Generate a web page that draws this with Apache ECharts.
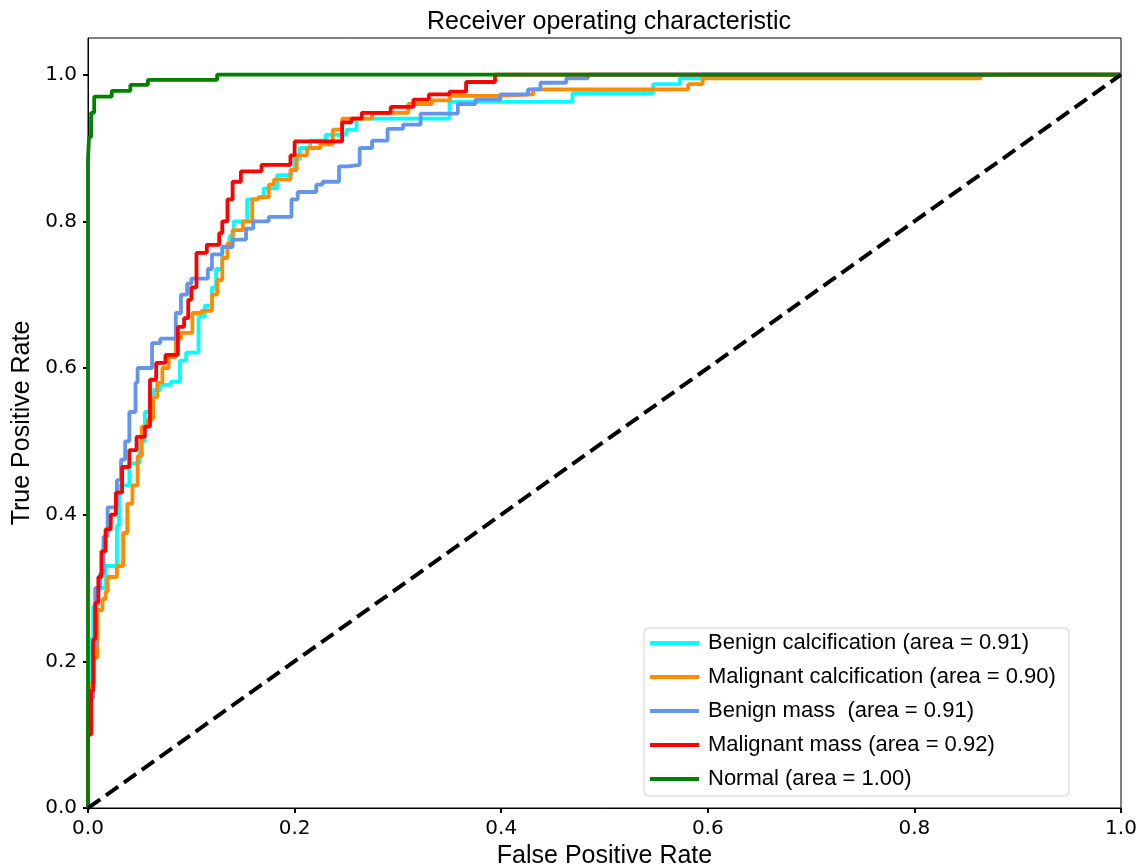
<!DOCTYPE html>
<html>
<head>
<meta charset="utf-8">
<script src="https://cdn.jsdelivr.net/npm/echarts@6/dist/echarts.min.js"></script>
<style>
  html, body { margin: 0; padding: 0; background: #fff; }
  #rocChart { width: 1143px; height: 868px; }
</style>
</head>
<body>
<div id="rocChart"></div>
<script>
// ROC 曲线数据 (fpr -> tpr 阶梯拐点)
var benignCalcFpr = [0, 0.002, 0.005, 0.010, 0.017, 0.028, 0.030, 0.040, 0.050, 0.055, 0.063, 0.070, 0.080, 0.089, 0.095, 0.107, 0.113, 0.120, 0.124, 0.130, 0.137, 0.141, 0.154, 0.165, 0.170, 0.183, 0.197, 0.200, 0.205, 0.215, 0.230, 0.250, 0.260, 0.350, 0.469, 0.547, 0.573, 0.594, 1.0];
var benignCalcTpr = [0.12, 0.23, 0.275, 0.30, 0.33, 0.385, 0.44, 0.47, 0.50, 0.54, 0.57, 0.577, 0.581, 0.61, 0.621, 0.67, 0.685, 0.71, 0.735, 0.765, 0.78, 0.80, 0.83, 0.833, 0.845, 0.863, 0.87, 0.885, 0.90, 0.91, 0.918, 0.925, 0.94, 0.963, 0.975, 0.987, 0.995, 1.0, 1.0];

var malignantCalcFpr = [0, 0.003, 0.006, 0.009, 0.014, 0.017, 0.019, 0.028, 0.034, 0.038, 0.043, 0.048, 0.052, 0.058, 0.063, 0.067, 0.072, 0.078, 0.085, 0.090, 0.101, 0.110, 0.120, 0.125, 0.130, 0.135, 0.140, 0.150, 0.159, 0.165, 0.175, 0.180, 0.196, 0.202, 0.212, 0.225, 0.237, 0.246, 0.275, 0.310, 0.333, 0.350, 0.396, 0.431, 0.581, 0.595, 0.864, 1.0];
var malignantCalcTpr = [0.12, 0.17, 0.205, 0.27, 0.285, 0.295, 0.315, 0.33, 0.375, 0.415, 0.44, 0.48, 0.52, 0.53, 0.56, 0.58, 0.60, 0.615, 0.64, 0.648, 0.675, 0.678, 0.70, 0.72, 0.75, 0.77, 0.788, 0.80, 0.83, 0.833, 0.85, 0.857, 0.87, 0.89, 0.90, 0.905, 0.925, 0.94, 0.948, 0.96, 0.965, 0.971, 0.973, 0.98, 0.987, 0.995, 1.0, 1.0];

var benignMassFpr = [0, 0.005, 0.007, 0.012, 0.015, 0.019, 0.028, 0.032, 0.036, 0.040, 0.046, 0.048, 0.062, 0.070, 0.085, 0.090, 0.096, 0.100, 0.116, 0.120, 0.130, 0.140, 0.153, 0.160, 0.175, 0.197, 0.203, 0.221, 0.227, 0.243, 0.252, 0.263, 0.275, 0.290, 0.305, 0.322, 0.358, 0.375, 0.399, 0.426, 0.438, 0.463, 0.484, 1.0];
var benignMassTpr = [0.15, 0.22, 0.30, 0.32, 0.37, 0.41, 0.447, 0.475, 0.50, 0.54, 0.58, 0.60, 0.634, 0.64, 0.675, 0.70, 0.715, 0.722, 0.735, 0.755, 0.765, 0.775, 0.79, 0.80, 0.806, 0.83, 0.84, 0.85, 0.854, 0.875, 0.877, 0.90, 0.91, 0.926, 0.932, 0.947, 0.96, 0.966, 0.973, 0.98, 0.989, 0.995, 1.0, 1.0];

var malignantMassFpr = [0, 0.003, 0.005, 0.007, 0.010, 0.013, 0.017, 0.022, 0.027, 0.033, 0.040, 0.047, 0.055, 0.060, 0.066, 0.075, 0.087, 0.093, 0.097, 0.100, 0.105, 0.115, 0.127, 0.130, 0.135, 0.140, 0.148, 0.168, 0.196, 0.200, 0.246, 0.255, 0.265, 0.293, 0.315, 0.330, 0.350, 0.366, 0.394, 1.0];
var malignantMassTpr = [0.10, 0.16, 0.23, 0.28, 0.315, 0.35, 0.38, 0.40, 0.43, 0.465, 0.488, 0.506, 0.52, 0.584, 0.607, 0.618, 0.656, 0.668, 0.693, 0.71, 0.757, 0.768, 0.784, 0.80, 0.83, 0.854, 0.868, 0.877, 0.89, 0.909, 0.935, 0.94, 0.948, 0.956, 0.966, 0.973, 0.977, 0.99, 1.0, 1.0];

var normalFpr = [0, 0.001, 0.003, 0.006, 0.023, 0.041, 0.058, 0.125, 1.0];
var normalTpr = [0.884, 0.915, 0.948, 0.970, 0.978, 0.986, 0.993, 1.0, 1.0];

var seriesNames = ['Benign calcification (area = 0.91)', 'Malignant calcification (area = 0.90)', 'Benign mass  (area = 0.91)', 'Malignant mass (area = 0.92)', 'Normal (area = 1.00)'];
var seriesColors = ['#00ffff', '#ff8c00', '#6495ed', '#ff0000', '#008000'];
var tickValues = [0, 0.2, 0.4, 0.6, 0.8, 1.0];

// 拐点 -> 阶梯折线
function toSteps(fpr, tpr) {
	var pts = [[0, 0]];
	var prev = 0;
	for (var i = 0; i < fpr.length; i++) {
		pts.push([fpr[i], prev]);
		pts.push([fpr[i], tpr[i]]);
		prev = tpr[i];
	}
	return pts;
}

var curves = [
	toSteps(benignCalcFpr, benignCalcTpr),
	toSteps(malignantCalcFpr, malignantCalcTpr),
	toSteps(benignMassFpr, benignMassTpr),
	toSteps(malignantMassFpr, malignantMassTpr),
	toSteps(normalFpr, normalTpr)
];

var rocChart = echarts.init(document.getElementById('rocChart'));

var series = [];
for (var k = 0; k < curves.length; k++) {
	series.push({
		name: seriesNames[k],
		type: 'line',
		data: curves[k],
		showSymbol: false,
		symbol: 'none',
		color: seriesColors[k],
		lineStyle: { color: seriesColors[k], width: 3.8 },
		emphasis: { disabled: true }
	});
}
// 对角参考线
series.push({
	name: 'chance',
	type: 'line',
	data: [[0, 0], [1, 1]],
	showSymbol: false,
	symbol: 'none',
	lineStyle: { color: '#000', width: 4, type: [15, 7] },
	emphasis: { disabled: true }
});

var axisFont = { fontFamily: 'DejaVu Sans', fontSize: 20, color: '#000' };

var rocOption = {
	animation: false,
	title: {
		text: 'Receiver operating characteristic',
		left: 604,
		top: 5,
		textAlign: 'center',
		textStyle: { fontFamily: 'Liberation Sans', fontSize: 25, fontWeight: 'normal', color: '#000' }
	},
	legend: {
		data: seriesNames,
		orient: 'vertical',
		left: 644,
		top: 628,
		icon: 'rect',
		itemWidth: 49,
		itemHeight: 4,
		itemGap: 10,
		padding: [3, 13, 5, 6],
		borderColor: '#d0d0d0',
		borderWidth: 1,
		borderRadius: 4,
		backgroundColor: '#fff',
		textStyle: { fontFamily: 'Liberation Sans', fontSize: 22, lineHeight: 24, color: '#000', padding: [0, 0, 0, 4] }
	},
	grid: {
		left: 88,
		right: 22,
		top: 38,
		bottom: 60,
		outerBoundsMode: 'none',
		containLabel: false,
		show: true,
		borderColor: '#000',
		borderWidth: 1
	},
	xAxis: {
		type: 'value',
		min: 0,
		max: 1,
		interval: 0.2,
		name: 'False Positive Rate',
		nameLocation: 'middle',
		nameGap: 35,
		nameTextStyle: { fontFamily: 'Liberation Sans', fontSize: 25, color: '#000' },
		axisLine: { lineStyle: { color: '#000', width: 1 } },
		axisTick: { length: 5, lineStyle: { color: '#000', width: 2 }, customValues: tickValues },
		axisLabel: { margin: 11, formatter: function (v) { return v.toFixed(1); }, customValues: tickValues, fontFamily: axisFont.fontFamily, fontSize: axisFont.fontSize, color: axisFont.color },
		splitLine: { show: false }
	},
	yAxis: {
		type: 'value',
		min: 0,
		max: 1.05,
		interval: 0.2,
		name: 'True Positive Rate',
		nameLocation: 'middle',
		nameRotate: 90,
		nameGap: 52,
		nameTextStyle: { fontFamily: 'Liberation Sans', fontSize: 25, color: '#000' },
		axisLine: { show: true, lineStyle: { color: '#000', width: 1 } },
		axisTick: { show: true, length: 5, lineStyle: { color: '#000', width: 2 }, customValues: tickValues },
		axisLabel: { margin: 11, formatter: function (v) { return v.toFixed(1); }, customValues: tickValues, fontFamily: axisFont.fontFamily, fontSize: axisFont.fontSize, color: axisFont.color },
		splitLine: { show: false }
	},
	series: series
};

rocChart.setOption(rocOption);
</script>
</body>
</html>
